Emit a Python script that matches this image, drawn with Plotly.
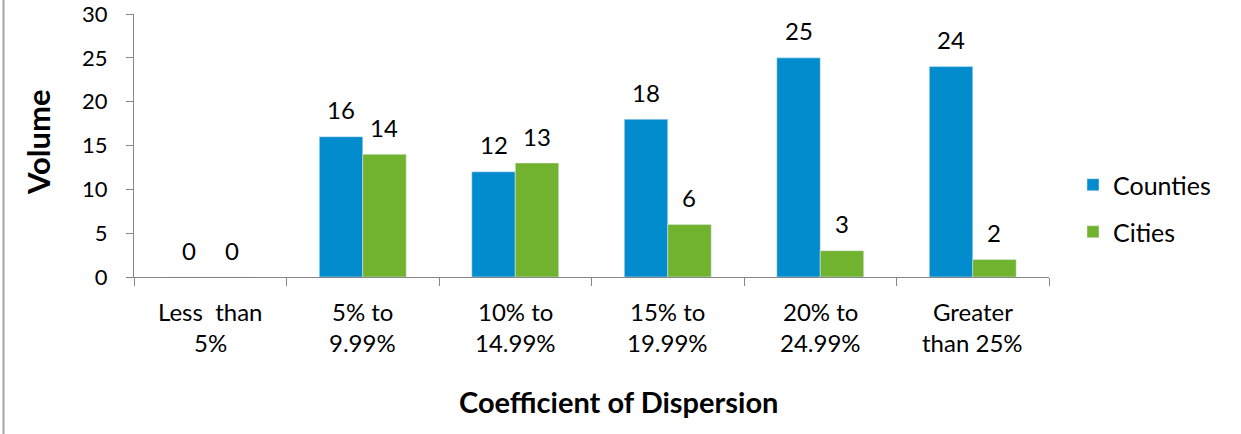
import plotly.graph_objects as go

categories = ["Less than 5%", "5% to 9.99%", "10% to 14.99%", "15% to 19.99%", "20% to 24.99%", "Greater than 25%"]
line1 = ["Less  than", "5% to", "10% to", "15% to", "20% to", "Greater"]
line2 = ["5%", "9.99%", "14.99%", "19.99%", "24.99%", "than 25%"]
counties = [0, 16, 12, 18, 25, 24]
cities = [0, 14, 13, 6, 3, 2]

BLUE = "#028CCE"
GREEN = "#71B22F"
FONT = "Lato, 'Open Sans', sans-serif"
FS = 24

W, H = 1241, 434
L, R, T, B = 134, 192, 14, 157
plot_w = W - L - R
plot_h = H - T - B
bargap = 0.43
cat_w = plot_w / len(categories)
bar_w = cat_w * (1 - bargap) / 2

fig = go.Figure()
fig.add_bar(x=categories, y=counties, name="Counties", marker_color=BLUE, legend="legend")
fig.add_bar(x=categories, y=cities, name="Cities", marker_color=GREEN, legend="legend2")

annotations = []
for cat, v1, v2 in zip(categories, counties, cities):
    for v, dx in ((v1, -bar_w / 2), (v2, bar_w / 2)):
        annotations.append(dict(x=cat, y=v, xref="x", yref="y", text=str(v), showarrow=False,
                                xanchor="center", yanchor="middle",
                                xshift=dx, yshift=27, font=dict(size=FS, color="#000000", family=FONT)))
for cat, a, b in zip(categories, line1, line2):
    annotations.append(dict(x=cat, y=0, xref="x", yref="y", text=a, showarrow=False,
                            xanchor="center", yanchor="middle",
                            yshift=-34, font=dict(size=FS, color="#000000", family=FONT)))
    annotations.append(dict(x=cat, y=0, xref="x", yref="y", text=b, showarrow=False,
                            xanchor="center", yanchor="middle",
                            yshift=-65, font=dict(size=FS, color="#000000", family=FONT)))
annotations.append(dict(x=(618 - L) / plot_w, y=-(401 - 277) / plot_h, xref="paper", yref="paper",
                        xanchor="center", yanchor="middle",
                        text="<b>Coefficient of Dispersion</b>", showarrow=False,
                        font=dict(size=29, color="#000000", family=FONT)))
annotations.append(dict(x=(38 - L) / plot_w, y=(277 - 142) / plot_h, xref="paper", yref="paper",
                        xanchor="center", yanchor="middle",
                        text="<b>Volume</b>", showarrow=False, textangle=-90,
                        font=dict(size=31, color="#000000", family=FONT)))

legend_common = dict(x=(1073 - L) / plot_w, xanchor="left", yanchor="middle",
                     font=dict(size=25, family=FONT, color="#000000"), bgcolor="rgba(0,0,0,0)",
                     itemwidth=30)

fig.update_layout(
    width=W, height=H,
    margin=dict(l=L, r=R, t=T, b=B, autoexpand=False),
    paper_bgcolor="white", plot_bgcolor="white",
    barmode="group", bargap=bargap, bargroupgap=0,
    font=dict(family=FONT, size=FS, color="#000000"),
    showlegend=True,
    legend=dict(legend_common, y=(277 - 185) / plot_h),
    legend2=dict(legend_common, y=(277 - 232) / plot_h),
    annotations=annotations,
    shapes=[dict(type="line", xref="paper", yref="paper",
                 x0=(3.5 - L) / plot_w, x1=(3.5 - L) / plot_w,
                 y0=-B / plot_h - 0.05, y1=1 + T / plot_h + 0.05,
                 line=dict(color="#A6A6A6", width=2))],
)
fig.update_xaxes(showticklabels=False, showline=True, linecolor="#868686", linewidth=1,
                 ticks="outside", ticklen=8, tickcolor="#868686", tickson="boundaries",
                 showgrid=False, zeroline=False, automargin=False)
fig.update_yaxes(range=[0, 30], dtick=5, showline=True, linecolor="#868686", linewidth=1,
                 ticks="outside", ticklen=7, tickcolor="#868686", showgrid=False, zeroline=False,
                 tickfont=dict(size=22), ticklabelstandoff=14, automargin=False,
                 ticklabeloverflow="allow")

fig.write_html("out.html")
